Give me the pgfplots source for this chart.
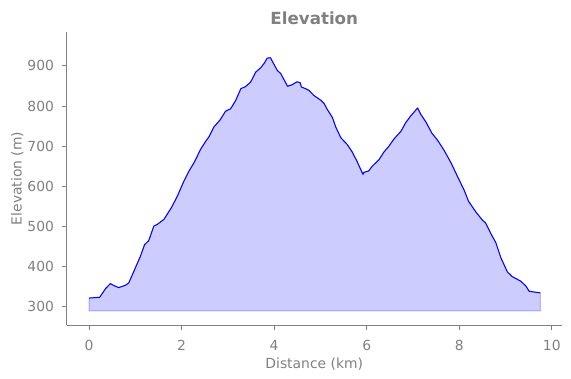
\documentclass[border=0pt]{standalone}
\usepackage{pgfplots}
\pgfplotsset{compat=1.18}
\usepackage{pgfplotstable}
\usepackage{fontspec}
\setmainfont{DejaVu Sans}
\definecolor{txtgray}{RGB}{128,128,128}
\pgfplotstableread{
x y
0.00 322
0.23 324
0.36 346
0.46 358
0.54 353
0.64 348
0.79 354
0.86 360
0.97 389
1.11 426
1.20 455
1.29 465
1.40 501
1.47 505
1.62 518
1.73 538
1.78 547
1.91 576
2.05 613
2.16 638
2.27 659
2.41 692
2.52 712
2.59 723
2.70 748
2.83 765
2.95 787
3.06 793
3.17 814
3.28 843
3.38 848
3.49 859
3.60 884
3.71 895
3.79 907
3.85 919
3.92 920
3.98 907
4.07 888
4.14 881
4.29 849
4.39 853
4.49 860
4.56 858
4.59 847
4.68 843
4.75 839
4.86 826
5.01 814
5.08 806
5.15 791
5.26 771
5.33 748
5.44 721
5.58 704
5.69 685
5.80 660
5.87 642
5.92 630
5.94 635
6.04 638
6.12 650
6.27 667
6.37 685
6.48 700
6.59 718
6.74 737
6.84 758
6.95 775
7.04 787
7.10 795
7.17 779
7.28 760
7.41 732
7.53 715
7.67 690
7.82 659
7.96 625
8.10 592
8.20 563
8.36 536
8.50 516
8.57 509
8.68 483
8.79 460
8.90 422
9.04 387
9.15 375
9.33 364
9.44 352
9.51 339
9.62 337
9.75 335
}\elev
\begin{document}
\begin{tikzpicture}[x=1pt,y=1pt]
\path[use as bounding box] (0,0) rectangle (571,378);
\begin{axis}[
  at={(66.5pt,53pt)}, anchor=south west,
  scale only axis, width=495.5pt, height=293pt,
  xmin=-0.487, xmax=10.22, ymin=255, ymax=984,
  axis x line*=bottom, axis y line*=left,
  axis line style={txtgray, line width=0.9pt},
  xtick={0,2,4,6,8,10}, ytick={300,400,500,600,700,800,900},
  tick align=outside, major tick length=5pt,
  tick style={txtgray, line width=0.9pt},
  every tick label/.append style={font=\fontsize{13.9}{16}\selectfont, text=txtgray},
  /pgf/number format/assume math mode=true,
  xticklabel style={yshift=-7pt},
  yticklabel style={xshift=-4pt},
  xlabel={Distance (km)}, ylabel={Elevation (m)},
  label style={font=\fontsize{13.9}{16}\selectfont, text=txtgray},
  xlabel style={yshift=0pt},
  ylabel style={yshift=-3pt},
  title={\textbf{Elevation}},
  title style={font=\fontsize{16.7}{19}\selectfont, text=txtgray, yshift=-2pt},
  clip=false,
]
\addplot[draw=blue, draw opacity=0.25, line width=1pt, fill=blue, fill opacity=0.2]
  table[x=x, y=y] {\elev} |- (axis cs:0,290) -- cycle;
\addplot[blue, line width=1pt, line join=round] table[x=x, y=y] {\elev};
\end{axis}
\end{tikzpicture}
\end{document}
